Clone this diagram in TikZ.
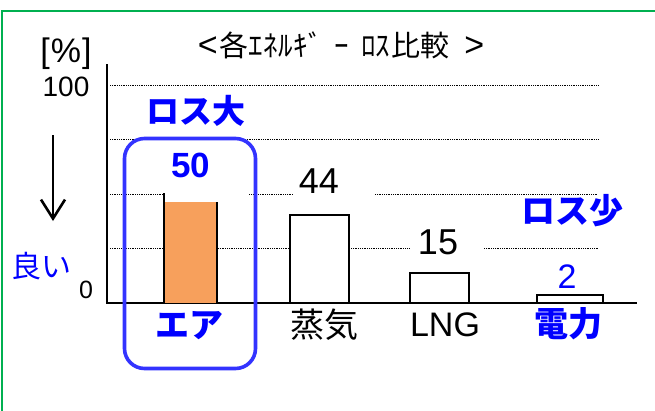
\documentclass[tikz,border=0pt]{standalone}
\usepackage{fontspec}
\setmainfont{Liberation Sans}
\newfontfamily\jp{Noto Sans CJK JP}
\usetikzlibrary{arrows.meta}
\definecolor{lossblue}{RGB}{0,0,255}
\definecolor{boxblue}{RGB}{51,51,255}
\definecolor{framegreen}{RGB}{0,176,80}
\definecolor{barorange}{RGB}{247,160,92}
\newcommand{\fs}[1]{\fontsize{#1}{#1}\selectfont}
\newcommand{\brk}[1]{{\rmfamily\fs{34}#1}}
\begin{document}
\begin{tikzpicture}[x=1pt,y=-1pt,
  gridline/.style={black, line width=0.9pt, dash pattern=on 0.9pt off 0.9pt},
  axisline/.style={black, line width=1.6pt},
  barbox/.style={draw=black, line width=1.6pt, fill=white},
  lbl/.style={inner sep=0pt, anchor=center},
  bluebold/.style={lbl, text=lossblue, font=\jp\bfseries\fs{33}}]
\path[use as bounding box] (0,0) rectangle (655,410);
\draw[framegreen, line width=1.8pt] (2.3,412) -- (2.3,11) -- (657,11);

% grid lines
\draw[gridline] (110,85) -- (598,85);
\draw[gridline] (110,139) -- (598,139);
\draw[gridline] (110,194) -- (163,194) (249,194) -- (293,194) (375,194) -- (598,194);
\draw[gridline] (110,248) -- (163,248) (218,248) -- (289,248) (351,248) -- (409,248) (484,248) -- (598,248);

% axes
\draw[axisline] (107,64) -- (107,303) -- (637,303);

% bars
\fill[barorange] (164,202) rectangle (217,303);
\draw[axisline] (164,193) -- (164,303) (217,202) -- (217,303);
\draw[barbox] (290,215) rectangle (349,303);
\draw[barbox] (410,273) rectangle (469,303);
\draw[barbox] (537,295) rectangle (603,303);

% highlight box
\draw[boxblue, line width=3.6pt, rounded corners=20pt] (124.5,138.5) rectangle (255.5,368.5);

% arrow
\coordinate (arrtop) at (53,135);
\coordinate (arrbot) at (53,221);
\draw[line width=2.6pt, -{Straight Barb[length=19pt,width=24pt]}] (arrtop) -- (arrbot);

% texts
\node[lbl, font=\jp\fs{29}] (title) at (341,45) {\brk{<}\hspace{2pt}各ｴ\kern0.5ptﾈ\kern0.5ptﾙ\kern0.5ptｷﾞ\hspace{12pt}ｰ\hspace{12pt}ﾛｽ\kern1pt比較\hspace{15pt}\brk{>}};
\node[lbl, font=\fs{34}] (pct) at (66,54) {[\kern1pt\%\kern1pt]};
\node[lbl, font=\fs{28}] (v100) at (66,87) {100};
\node[lbl, font=\fs{25}] (v0) at (86,290) {0};
\node[lbl, text=lossblue, font=\jp\fs{30}] (good) at (42,266) {良い};
\node[bluebold] (lossbig) at (196,111) {ロス大};
\node[lbl, text=lossblue, font=\bfseries\fs{35}] (n50) at (191,165) {50};
\node[lbl, font=\fs{36}] (n44) at (319,181) {44};
\node[lbl, font=\fs{36}] (n15) at (438,242) {15};
\node[lbl, text=lossblue, font=\fs{34}] (n2) at (567,277) {2};
\node[bluebold, font=\jp\bfseries\fs{34}] (losssmall) at (572,211) {ロス少};
\node[bluebold, font=\jp\bfseries\fs{34}] (air) at (189,326) {エア};
\node[lbl, font=\jp\fs{34}] (steam) at (324,325) {蒸気};
\node[lbl, font=\fs{34}] (lng) at (445,325) {LNG};
\node[bluebold, font=\jp\bfseries\fs{34}] (power) at (568,324) {電力};
\end{tikzpicture}
\end{document}
